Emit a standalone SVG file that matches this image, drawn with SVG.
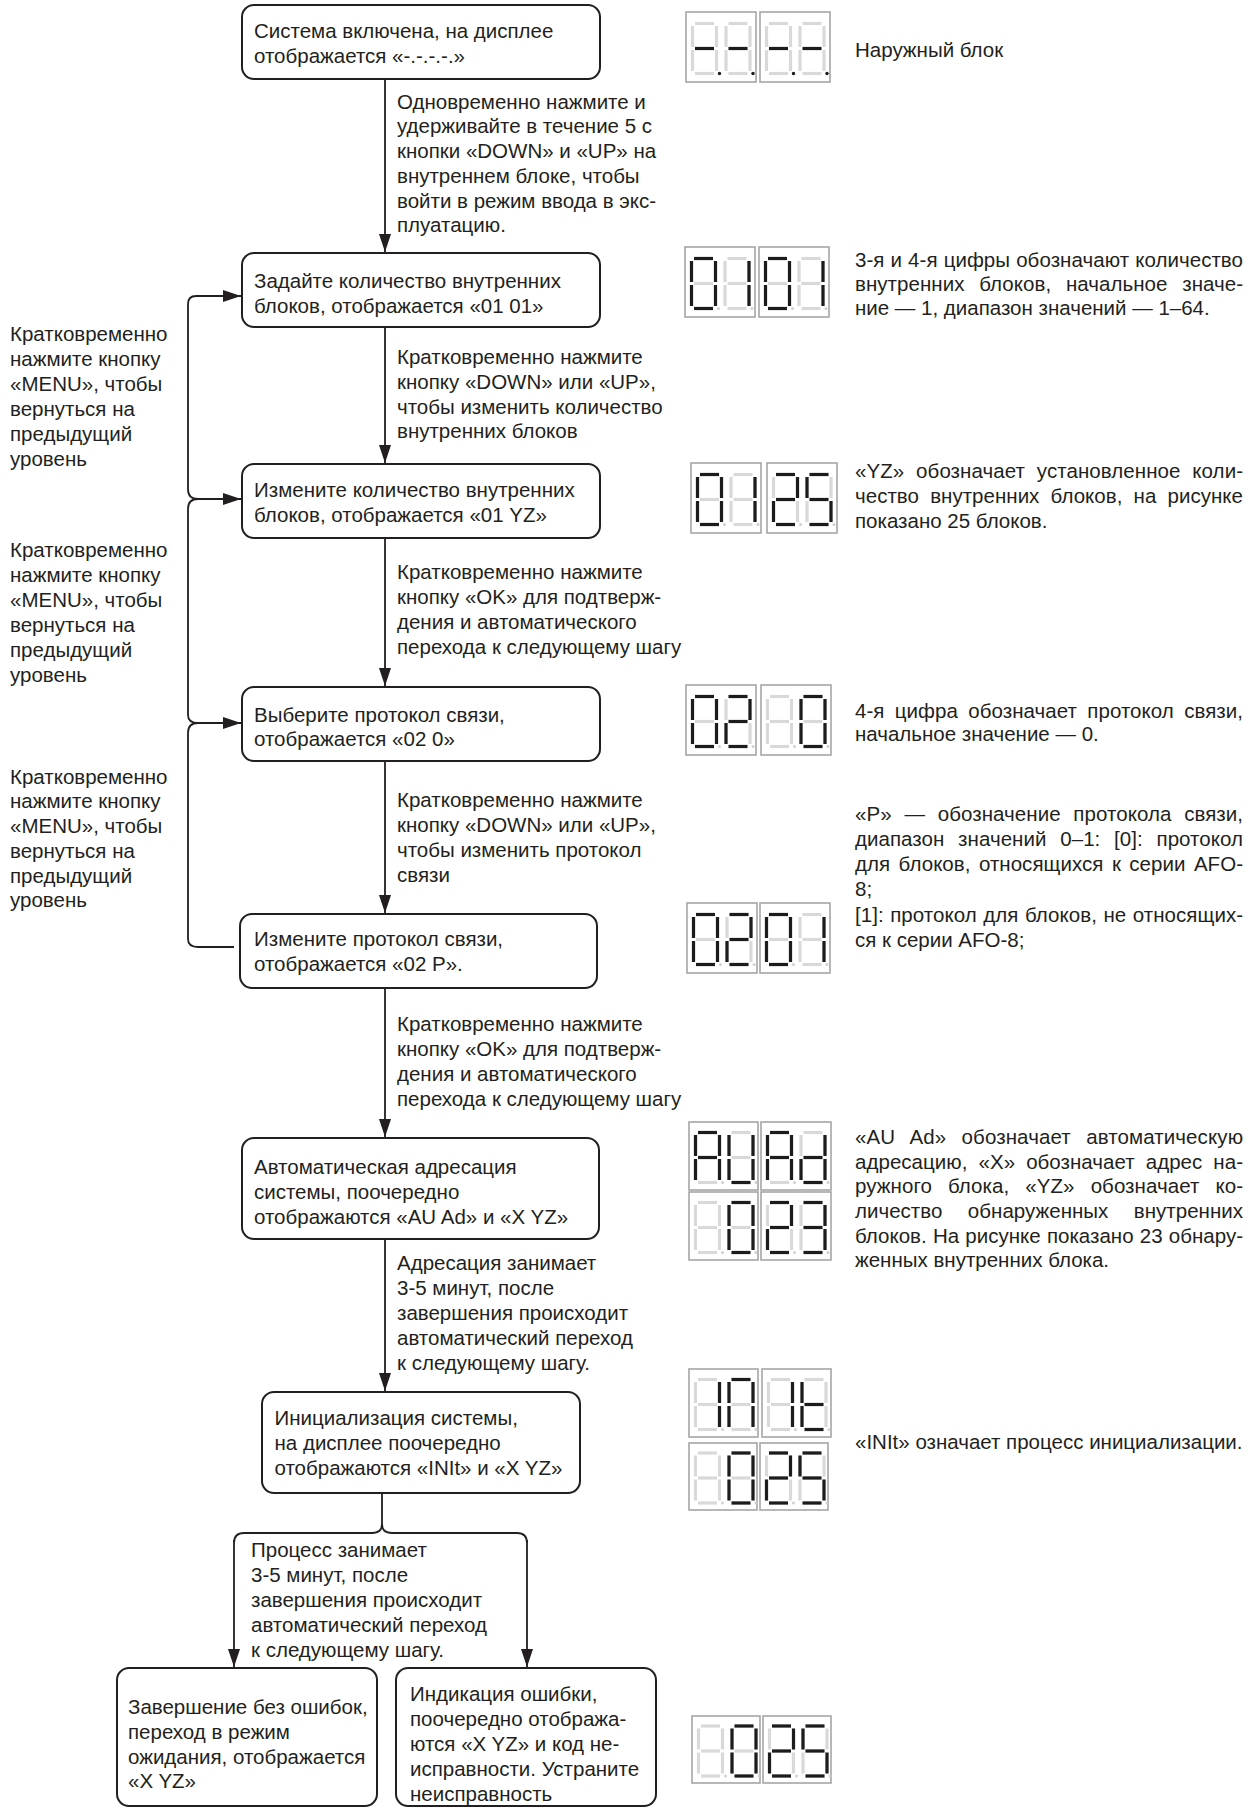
<svg xmlns="http://www.w3.org/2000/svg" width="1253" height="1809" viewBox="0 0 1253 1809">
<style>
text { font-family: "Liberation Sans", Arial, sans-serif; font-size: 20.5px; fill: #231f20; }
.box { fill: #ffffff; stroke: #231f20; stroke-width: 2; }
.conn path { fill: none; stroke: #231f20; stroke-width: 1.8; }
.arr { marker-end: url(#ah); }
.frame { fill: #ffffff; stroke: #a6a6a6; stroke-width: 1.6; }
.off { stroke: #d9d9d9; stroke-width: 3.2; fill: none; }
.on { stroke: #1c1c1c; stroke-width: 3.2; fill: none; }
.dotoff { fill: #d0d0d0; stroke: none; }
.doton { fill: #1c1c1c; stroke: none; }
.j { text-anchor: start; }
</style>
<defs>
<marker id="ah" markerWidth="18" markerHeight="12" refX="18" refY="6" orient="auto" markerUnits="userSpaceOnUse">
<path d="M0 0L18 6L0 12z" fill="#231f20"/>
</marker>
<path id="sa" d="M2.5 0H21.5"/>
<path id="sb" d="M24 2.5V23.5"/>
<path id="sc" d="M24 26.5V47.5"/>
<path id="sd" d="M2.5 50H21.5"/>
<path id="se" d="M0 26.5V47.5"/>
<path id="sf" d="M0 2.5V23.5"/>
<path id="sg" d="M2.5 25H21.5"/>
<g id="off">
<g class="off"><use href="#sa"/><use href="#sb"/><use href="#sc"/><use href="#sd"/><use href="#se"/><use href="#sf"/><use href="#sg"/></g>
<circle class="dotoff" cx="27" cy="50" r="1.5"/>
</g>
<g id="kblank"><use href="#off"/></g>
<g id="kminus"><use href="#off"/><use href="#sg" class="on"/><circle class="doton" cx="27" cy="50" r="1.7"/></g>
<g id="k0"><use href="#off"/><use href="#sa" class="on"/><use href="#sb" class="on"/><use href="#sc" class="on"/><use href="#sd" class="on"/><use href="#se" class="on"/><use href="#sf" class="on"/></g>
<g id="k1"><use href="#off"/><use href="#sb" class="on"/><use href="#sc" class="on"/></g>
<g id="k2"><use href="#off"/><use href="#sa" class="on"/><use href="#sb" class="on"/><use href="#sg" class="on"/><use href="#se" class="on"/><use href="#sd" class="on"/></g>
<g id="k3"><use href="#off"/><use href="#sa" class="on"/><use href="#sb" class="on"/><use href="#sg" class="on"/><use href="#sc" class="on"/><use href="#sd" class="on"/></g>
<g id="k5"><use href="#off"/><use href="#sa" class="on"/><use href="#sf" class="on"/><use href="#sg" class="on"/><use href="#sc" class="on"/><use href="#sd" class="on"/></g>
<g id="kA"><use href="#off"/><use href="#sa" class="on"/><use href="#sb" class="on"/><use href="#sc" class="on"/><use href="#se" class="on"/><use href="#sf" class="on"/><use href="#sg" class="on"/></g>
<g id="kU"><use href="#off"/><use href="#sb" class="on"/><use href="#sc" class="on"/><use href="#sd" class="on"/><use href="#se" class="on"/><use href="#sf" class="on"/></g>
<g id="kd"><use href="#off"/><use href="#sb" class="on"/><use href="#sc" class="on"/><use href="#sd" class="on"/><use href="#se" class="on"/><use href="#sg" class="on"/></g>
<g id="kN"><use href="#off"/><use href="#sa" class="on"/><use href="#sb" class="on"/><use href="#sc" class="on"/><use href="#se" class="on"/><use href="#sf" class="on"/></g>
<g id="kt"><use href="#off"/><use href="#sd" class="on"/><use href="#se" class="on"/><use href="#sf" class="on"/><use href="#sg" class="on"/></g>
</defs>

<rect x="0" y="0" width="1253" height="1809" fill="#ffffff"/>

<!-- connectors -->
<g id="connectors" class="conn">
<path class="arr" d="M385 79V252"/>
<path class="arr" d="M385 327V463"/>
<path class="arr" d="M385 538V686"/>
<path class="arr" d="M385 761V913"/>
<path class="arr" d="M385 988V1137"/>
<path class="arr" d="M385 1239V1391"/>
<path d="M382 1493V1524Q382 1533 372 1533H244Q234 1533 234 1543"/>
<path class="arr" d="M234 1540V1667"/>
<path d="M382 1524Q382 1533 392 1533H517Q527 1533 527 1543"/>
<path class="arr" d="M527 1540V1667"/>
<path class="arr" d="M198 499Q188 499 188 489V304Q188 296 196 296H241"/>
<path class="arr" d="M194 499H241"/>
<path d="M198 499Q188 499 188 509V715Q188 723 198 723"/>
<path class="arr" d="M194 723H241"/>
<path d="M198 723Q188 723 188 733V939Q188 947 198 947H234"/>
</g>

<!-- flow nodes -->
<g id="n1">
<rect class="box" x="242" y="5" width="358" height="74" rx="12"/>
<text><tspan x="254" y="37.5">Система включена, на дисплее</tspan><tspan x="254" y="62.5">отображается «-.-.-.-.»</tspan></text>
</g>
<g id="n2">
<rect class="box" x="242" y="253" width="358" height="74" rx="12"/>
<text><tspan x="254" y="287.5">Задайте количество внутренних</tspan><tspan x="254" y="312.5">блоков, отображается «01 01»</tspan></text>
</g>
<g id="n3">
<rect class="box" x="242" y="464" width="358" height="74" rx="12"/>
<text><tspan x="254" y="497">Измените количество внутренних</tspan><tspan x="254" y="522">блоков, отображается «01 YZ»</tspan></text>
</g>
<g id="n4">
<rect class="box" x="242" y="687" width="358" height="74" rx="12"/>
<text><tspan x="254" y="721.5">Выберите протокол связи,</tspan><tspan x="254" y="746">отображается «02 0»</tspan></text>
</g>
<g id="n5">
<rect class="box" x="240" y="914" width="357" height="74" rx="12"/>
<text><tspan x="254" y="946">Измените протокол связи,</tspan><tspan x="254" y="970.5">отображается «02 P».</tspan></text>
</g>
<g id="n6">
<rect class="box" x="242" y="1138" width="357" height="101" rx="12"/>
<text><tspan x="254" y="1173.5">Автоматическая адресация</tspan><tspan x="254" y="1198.5">системы, поочередно</tspan><tspan x="254" y="1223.5">отображаются «AU Ad» и «X YZ»</tspan></text>
</g>
<g id="n7">
<rect class="box" x="262" y="1392" width="318" height="101" rx="12"/>
<text><tspan x="274.5" y="1425">Инициализация системы,</tspan><tspan x="274.5" y="1450">на дисплее поочередно</tspan><tspan x="274.5" y="1475">отображаются «INIt» и «X YZ»</tspan></text>
</g>
<g id="n8">
<rect class="box" x="117" y="1668" width="260" height="138" rx="12"/>
<text><tspan x="128" y="1714">Завершение без ошибок,</tspan><tspan x="128" y="1739">переход в режим</tspan><tspan x="128" y="1764">ожидания, отображается</tspan><tspan x="128" y="1788">«X YZ»</tspan></text>
</g>
<g id="n9">
<rect class="box" x="396" y="1668" width="260" height="138" rx="12"/>
<text><tspan x="410" y="1701">Индикация ошибки,</tspan><tspan x="410" y="1726">поочередно отобража-</tspan><tspan x="410" y="1751">ются «X YZ» и код не-</tspan><tspan x="410" y="1776">исправности. Устраните</tspan><tspan x="410" y="1801">неисправность</tspan></text>
</g>

<!-- connector labels -->
<g id="labels">
<text><tspan x="397" y="108.5">Одновременно нажмите и</tspan><tspan x="397" y="133.3">удерживайте в течение 5 с</tspan><tspan x="397" y="158">кнопки «DOWN» и «UP» на</tspan><tspan x="397" y="182.8">внутреннем блоке, чтобы</tspan><tspan x="397" y="207.6">войти в режим ввода в экс-</tspan><tspan x="397" y="232.4">плуатацию.</tspan></text>
<text><tspan x="397" y="363.5">Кратковременно нажмите</tspan><tspan x="397" y="388.5">кнопку «DOWN» или «UP»,</tspan><tspan x="397" y="413.5">чтобы изменить количество</tspan><tspan x="397" y="438">внутренних блоков</tspan></text>
<text><tspan x="397" y="579">Кратковременно нажмите</tspan><tspan x="397" y="604">кнопку «OK» для подтверж-</tspan><tspan x="397" y="629">дения и автоматического</tspan><tspan x="397" y="654">перехода к следующему шагу</tspan></text>
<text><tspan x="397" y="807">Кратковременно нажмите</tspan><tspan x="397" y="832">кнопку «DOWN» или «UP»,</tspan><tspan x="397" y="857">чтобы изменить протокол</tspan><tspan x="397" y="881.5">связи</tspan></text>
<text><tspan x="397" y="1031">Кратковременно нажмите</tspan><tspan x="397" y="1056">кнопку «OK» для подтверж-</tspan><tspan x="397" y="1081">дения и автоматического</tspan><tspan x="397" y="1106">перехода к следующему шагу</tspan></text>
<text><tspan x="397" y="1270">Адресация занимает</tspan><tspan x="397" y="1295">3-5 минут, после</tspan><tspan x="397" y="1320">завершения происходит</tspan><tspan x="397" y="1345">автоматический переход</tspan><tspan x="397" y="1370">к следующему шагу.</tspan></text>
<text><tspan x="251" y="1557">Процесс занимает</tspan><tspan x="251" y="1582">3-5 минут, после</tspan><tspan x="251" y="1607">завершения происходит</tspan><tspan x="251" y="1632">автоматический переход</tspan><tspan x="251" y="1657">к следующему шагу.</tspan></text>
<text><tspan x="10" y="341">Кратковременно</tspan><tspan x="10" y="366">нажмите кнопку</tspan><tspan x="10" y="390.5">«MENU», чтобы</tspan><tspan x="10" y="415.5">вернуться на</tspan><tspan x="10" y="440.5">предыдущий</tspan><tspan x="10" y="465.5">уровень</tspan></text>
<text><tspan x="10" y="557">Кратковременно</tspan><tspan x="10" y="582">нажмите кнопку</tspan><tspan x="10" y="607">«MENU», чтобы</tspan><tspan x="10" y="632">вернуться на</tspan><tspan x="10" y="657">предыдущий</tspan><tspan x="10" y="682">уровень</tspan></text>
<text><tspan x="10" y="783.5">Кратковременно</tspan><tspan x="10" y="808">нажмите кнопку</tspan><tspan x="10" y="833">«MENU», чтобы</tspan><tspan x="10" y="858">вернуться на</tspan><tspan x="10" y="883">предыдущий</tspan><tspan x="10" y="907">уровень</tspan></text>
</g>

<!-- displays -->
<g id="disp1">
<rect class="frame" x="686" y="12" width="70" height="70"/><rect class="frame" x="760" y="12" width="70" height="70"/>
<use href="#kminus" x="692.5" y="23.5"/><use href="#kminus" x="726" y="23.5"/><use href="#kminus" x="766.5" y="23.5"/><use href="#kminus" x="800" y="23.5"/>
</g>
<g id="disp2">
<rect class="frame" x="685" y="247" width="70" height="70"/><rect class="frame" x="759" y="247" width="70" height="70"/>
<use href="#k0" x="691.5" y="258.5"/><use href="#k1" x="725" y="258.5"/><use href="#k0" x="765.5" y="258.5"/><use href="#k1" x="799" y="258.5"/>
</g>
<g id="disp3">
<rect class="frame" x="691" y="463" width="70" height="70"/><rect class="frame" x="767" y="463" width="70" height="70"/>
<use href="#k0" x="697.5" y="474.5"/><use href="#k1" x="731" y="474.5"/><use href="#k2" x="773.5" y="474.5"/><use href="#k5" x="807" y="474.5"/>
</g>
<g id="disp4">
<rect class="frame" x="686" y="685" width="70" height="70"/><rect class="frame" x="761" y="685" width="70" height="70"/>
<use href="#k0" x="692.5" y="696.5"/><use href="#k2" x="726" y="696.5"/><use href="#kblank" x="767.5" y="696.5"/><use href="#k0" x="801" y="696.5"/>
</g>
<g id="disp5">
<rect class="frame" x="687" y="903" width="70" height="70"/><rect class="frame" x="760" y="903" width="70" height="70"/>
<use href="#k0" x="693.5" y="914.5"/><use href="#k2" x="727" y="914.5"/><use href="#k0" x="766.5" y="914.5"/><use href="#k1" x="800" y="914.5"/>
</g>
<g id="disp6">
<rect class="frame" x="689" y="1122" width="69" height="68"/><rect class="frame" x="761" y="1122" width="70" height="68"/>
<use href="#kA" x="695.5" y="1132.5"/><use href="#kU" x="729" y="1132.5"/><use href="#kA" x="767.5" y="1132.5"/><use href="#kd" x="801" y="1132.5"/>
<rect class="frame" x="689" y="1192" width="69" height="68"/><rect class="frame" x="761" y="1192" width="70" height="68"/>
<use href="#kblank" x="695.5" y="1202.5"/><use href="#k0" x="729" y="1202.5"/><use href="#k2" x="767.5" y="1202.5"/><use href="#k3" x="801" y="1202.5"/>
</g>
<g id="disp7">
<rect class="frame" x="689" y="1369" width="69" height="68"/><rect class="frame" x="762" y="1369" width="69" height="68"/>
<use href="#k1" x="695.5" y="1379.5"/><use href="#kN" x="729" y="1379.5"/><use href="#k1" x="768.5" y="1379.5"/><use href="#kt" x="802" y="1379.5"/>
<rect class="frame" x="689" y="1443" width="68" height="67"/><rect class="frame" x="760" y="1443" width="68" height="67"/>
<use href="#kblank" x="695.5" y="1453"/><use href="#k0" x="729" y="1453"/><use href="#k2" x="766.5" y="1453"/><use href="#k5" x="800" y="1453"/>
</g>
<g id="disp8">
<rect class="frame" x="692" y="1716" width="68" height="67"/><rect class="frame" x="763" y="1716" width="68" height="67"/>
<use href="#kblank" x="698.5" y="1726"/><use href="#k0" x="732" y="1726"/><use href="#k2" x="769.5" y="1726"/><use href="#k5" x="803" y="1726"/>
</g>

<!-- right descriptions -->
<g id="notes">
<text x="855" y="56.5">Наружный блок</text>

<text x="855" y="266.5" textLength="388" lengthAdjust="spacing" style="word-spacing:0.3px">3-я и 4-я цифры обозначают количество</text>
<text x="855" y="290.5" textLength="388" lengthAdjust="spacing" style="word-spacing:9px">внутренних блоков, начальное значе-</text>
<text x="855" y="314.5">ние — 1, диапазон значений — 1–64.</text>

<text x="855" y="477.5" textLength="388" lengthAdjust="spacing" style="word-spacing:6px">«YZ» обозначает установленное коли-</text>
<text x="855" y="502.5" textLength="388" lengthAdjust="spacing" style="word-spacing:5.5px">чество внутренних блоков, на рисунке</text>
<text x="855" y="527.5">показано 25 блоков.</text>

<text x="855" y="717.5" textLength="388" lengthAdjust="spacing" style="word-spacing:4.5px">4-я цифра обозначает протокол связи,</text>
<text x="855" y="741">начальное значение — 0.</text>

<text x="855" y="820.5" textLength="388" lengthAdjust="spacing" style="word-spacing:7px">«P» — обозначение протокола связи,</text>
<text x="855" y="845.5" textLength="388" lengthAdjust="spacing" style="word-spacing:8px">диапазон значений 0–1: [0]: протокол</text>
<text x="855" y="870.5" textLength="388" lengthAdjust="spacing" style="word-spacing:2.7px">для блоков, относящихся к серии AFO-</text>
<text x="855" y="896">8;</text>
<text x="855" y="921.5" textLength="388" lengthAdjust="spacing" style="word-spacing:0.8px">[1]: протокол для блоков, не относящих-</text>
<text x="855" y="946.5">ся к серии AFO-8;</text>

<text x="855" y="1144" textLength="388" lengthAdjust="spacing" style="word-spacing:9.5px">«AU Ad» обозначает автоматическую</text>
<text x="855" y="1168.5" textLength="388" lengthAdjust="spacing" style="word-spacing:5.3px">адресацию, «X» обозначает адрес на-</text>
<text x="855" y="1192.5" textLength="388" lengthAdjust="spacing" style="word-spacing:10.3px">ружного блока, «YZ» обозначает ко-</text>
<text x="855" y="1217.5" textLength="388" lengthAdjust="spacing" style="word-spacing:19.8px">личество обнаруженных внутренних</text>
<text x="855" y="1242.5" textLength="388" lengthAdjust="spacing" style="word-spacing:0.5px">блоков. На рисунке показано 23 обнару-</text>
<text x="855" y="1266.5">женных внутренних блока.</text>

<text x="855" y="1449">«INIt» означает процесс инициализации.</text>
</g>
</svg>
